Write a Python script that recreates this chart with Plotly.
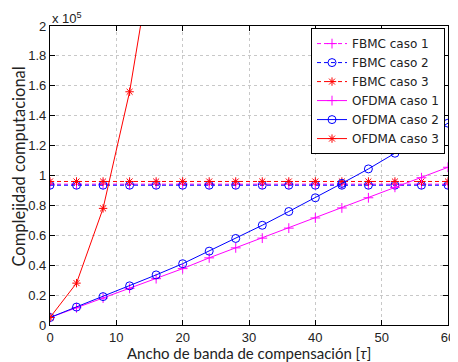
import plotly.graph_objects as go

# Data (values in units of 1e5)
x_vals = [0, 4, 8, 12, 16, 20, 24, 28, 32, 36, 40, 44, 48, 52, 56, 60]
fbmc_caso1 = [0.942] * 16
fbmc_caso2 = [0.935] * 16
fbmc_caso3 = [0.960] * 16
ofdma_caso1 = [0.05, 0.115, 0.18, 0.245, 0.31, 0.377, 0.449, 0.516, 0.581, 0.648,
               0.716, 0.783, 0.851, 0.921, 0.985, 1.055]
ofdma_caso2 = [0.05, 0.12, 0.19, 0.262, 0.335, 0.41, 0.494, 0.579, 0.667, 0.759,
               0.851, 0.947, 1.044, 1.149, 1.246, 1.35]
x_caso3 = [0, 4, 8, 12, 16, 20]
ofdma_caso3 = [0.05, 0.28, 0.78, 1.56, 2.63, 3.9]

x_ticks = [0, 10, 20, 30, 40, 50, 60]
y_ticks = [0, 0.2, 0.4, 0.6, 0.8, 1, 1.2, 1.4, 1.6, 1.8, 2]
y_ticklabels = ["0", "0.2", "0.4", "0.6", "0.8", "1", "1.2", "1.4", "1.6", "1.8", "2"]

MAG, BLU, RED = "#FF00FF", "#0000FF", "#FF0000"
dash = "4px,3px"
TICKFONT = "Liberation Sans, Arial, sans-serif"
LEGFONT = "DejaVu Sans, sans-serif"
TITLEFONT = "Lato, DejaVu Sans, sans-serif"

fig = go.Figure()

def add(name, xs, ys, color, symbol, dashed, size):
    fig.add_trace(go.Scatter(
        x=xs, y=ys, name=name, mode="lines+markers",
        line=dict(color=color, width=1, dash=dash if dashed else "solid"),
        marker=dict(symbol=symbol, size=size, color=color,
                    line=dict(color=color, width=1)),
    ))

add("FBMC caso 1", x_vals, fbmc_caso1, MAG, "cross-thin-open", True, 7)
add("FBMC caso 2", x_vals, fbmc_caso2, BLU, "circle-open", True, 8)
add("FBMC caso 3", x_vals, fbmc_caso3, RED, "asterisk-open", True, 7)
add("OFDMA caso 1", x_vals, ofdma_caso1, MAG, "cross-thin-open", False, 7)
add("OFDMA caso 2", x_vals, ofdma_caso2, BLU, "circle-open", False, 8)
add("OFDMA caso 3", x_caso3, ofdma_caso3, RED, "asterisk-open", False, 7)

axis_common = dict(
    showline=True, linecolor="black", linewidth=1.2, mirror="allticks",
    ticks="inside", ticklen=5, tickcolor="black",
    showgrid=True, gridcolor="#c8c8c8", griddash="dot", gridwidth=1,
    zeroline=False, automargin=False, ticklabeloverflow="allow",
    tickfont=dict(family=TICKFONT, size=13, color="#222"),
)

fig.update_layout(
    width=450, height=354,
    margin=dict(l=41.5, r=10, t=18, b=37),
    paper_bgcolor="white", plot_bgcolor="white",
    showlegend=True,
    legend=dict(
        x=0.9925, y=0.993, xanchor="right", yanchor="top",
        bgcolor="white", bordercolor="black", borderwidth=1,
        font=dict(family=LEGFONT, size=12, color="#222"),
        tracegroupgap=0, itemwidth=30,
    ),
    xaxis=dict(range=[0, 60], tickvals=x_ticks, **axis_common),
    yaxis=dict(range=[0, 2], tickvals=y_ticks, ticktext=y_ticklabels, **axis_common),
    annotations=[
        dict(text="x 10<sup>5</sup>", xref="paper", yref="paper", x=0, y=1,
             xanchor="left", yanchor="bottom", showarrow=False, yshift=-2,
             font=dict(family=TICKFONT, size=13, color="#222")),
        dict(text="Ancho de banda de compensación [<i>τ</i>]", xref="paper", yref="paper",
             x=0.5, y=0, yshift=-28, xanchor="center", yanchor="middle", showarrow=False,
             font=dict(family=TITLEFONT, size=15, color="#222")),
        dict(text="Complejidad computacional", xref="paper", yref="paper",
             x=0, xshift=-32, y=0.5, yshift=9, xanchor="center", yanchor="middle",
             textangle=-90, showarrow=False,
             font=dict(family=TITLEFONT, size=16.5, color="#222")),
    ],
)

fig.write_html("out.html")
